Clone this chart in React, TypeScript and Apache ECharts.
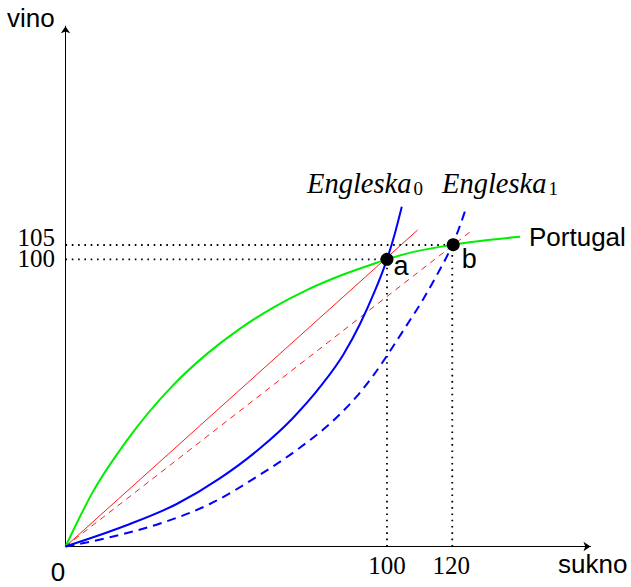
import React, { useEffect, useRef } from "react";
import * as echarts from "echarts";

// Data (x: sukno, y: vino)
const portugal: number[][] = [
  [0, 0], [8.6, 19.2], [19, 36.8], [33.5, 56.2], [43.9, 67.0],
  [54.3, 75.9], [64.6, 83.2], [75, 89.3], [85.4, 94.3], [95.7, 98.4], [100, 100],
  [106.1, 102.0], [120, 105], [128.9, 106.4], [141.4, 107.9],
];
const engleska0: number[][] = [
  [0, 0], [8.6, 3.2], [19, 7.4], [34.6, 14.8], [48.1, 23.8], [60.5, 34.2],
  [70.6, 44.6], [79.5, 56], [86.4, 66.8], [91.6, 77.5], [95.7, 87.6],
  [100, 100], [102.5, 109.2], [104.6, 118.3],
];
const engleska1: number[][] = [
  [0, 0], [13.8, 3.2], [29.4, 8.0], [44.9, 14.8], [60.5, 25.0], [72.9, 34.4],
  [84.4, 45.0], [90.6, 52.3], [95.7, 59.5], [100.9, 68.0], [106.1, 77.0], [111.3, 86.2],
  [115.5, 94.5], [120.3, 105], [122.2, 110.2], [124.3, 116.9],
];
const priceLine0: number[][] = [[0, 0], [109.5, 110.2]];
const priceLine1: number[][] = [[0, 0], [126.8, 110.4]];
const guides: number[][][] = [
  [[0, 105], [120.3, 105]],
  [[0, 100], [100, 100]],
  [[100, 0], [100, 100]],
  [[120.3, 0], [120.3, 105]],
];
const points: { name: string; value: number[] }[] = [
  { name: "a", value: [100, 100] },
  { name: "b", value: [120.6, 105.1] },
];
const xTicks: number[] = [100, 120];
const yTicks: number[] = [100, 105];

const SANS = "Liberation Sans";
const SERIF = "Liberation Serif";

// smooth curve through the points (cubic Hermite in pixel space, non-uniform tangents)
function splinePath(p: number[][]): string {
  const n = p.length;
  const h: number[] = [];
  const s: number[] = [];
  for (let i = 0; i < n - 1; i++) {
    h.push(p[i + 1][0] - p[i][0]);
    s.push((p[i + 1][1] - p[i][1]) / h[i]);
  }
  const m: number[] = new Array(n).fill(0);
  for (let i = 1; i < n - 1; i++) {
    m[i] = (h[i - 1] * s[i] + h[i] * s[i - 1]) / (h[i - 1] + h[i]);
  }
  m[0] = (3 * s[0] - m[1]) / 2;
  m[n - 1] = (3 * s[n - 2] - m[n - 2]) / 2;
  let d = `M${p[0][0]},${p[0][1]}`;
  for (let i = 0; i < n - 1; i++) {
    const c1x = p[i][0] + h[i] / 3;
    const c1y = p[i][1] + (m[i] * h[i]) / 3;
    const c2x = p[i + 1][0] - h[i] / 3;
    const c2y = p[i + 1][1] - (m[i + 1] * h[i]) / 3;
    d += ` C${c1x},${c1y} ${c2x},${c2y} ${p[i + 1][0]},${p[i + 1][1]}`;
  }
  return d;
}

export default function App() {
  const ref = useRef<HTMLDivElement>(null);
  useEffect(() => {
    if (!ref.current) return;
    const chart = echarts.init(ref.current, null, { renderer: "svg" });
    const guideSeries = guides.map((g) => ({
      type: "line",
      data: g,
      symbol: "none",
      silent: true,
      lineStyle: { color: "#000", width: 1.8, type: [1.6, 4.7] },
      z: 1,
    }));
    const curve = (data: number[][], color: string, dash: number[] | null) => ({
      type: "custom",
      data,
      encode: { x: 0, y: 1 },
      silent: true,
      z: 3,
      renderItem: (params: any, api: any) => {
        if (params.dataIndexInside !== 0) return null;
        const px = data.map((d) => api.coord(d));
        return {
          type: "path",
          shape: { pathData: splinePath(px) },
          style: {
            fill: "none",
            stroke: color,
            lineWidth: 2,
            lineDash: dash || undefined,
          },
        };
      },
    });
    chart.setOption({
      animation: false,
      grid: { left: 65.5, right: 40.5, top: 26.2, bottom: 40.5, outerBoundsMode: "none" },
      xAxis: {
        type: "value",
        min: 0,
        max: 163.3,
        splitLine: { show: false },
        axisTick: { show: false },
        axisLine: {
          show: true,
          symbol: ["none", "arrow"],
          symbolSize: [7, 7],
          lineStyle: { color: "#000", width: 1 },
        },
        axisLabel: {
          customValues: xTicks,
          margin: 6,
          fontFamily: SERIF,
          fontSize: 25,
          color: "#000",
        },
      },
      yAxis: {
        type: "value",
        min: 0,
        max: 181.2,
        splitLine: { show: false },
        axisTick: { show: false },
        axisLabel: { show: false },
        axisLine: {
          show: true,
          symbol: ["none", "arrow"],
          symbolSize: [7, 7],
          lineStyle: { color: "#000", width: 1 },
        },
      },
      series: [
        ...guideSeries,
        curve(portugal, "#00ee00", null),
        curve(engleska0, "#0000ff", null),
        curve(engleska1, "#0000ff", [9, 6]),
        {
          type: "line", data: priceLine0, symbol: "none",
          lineStyle: { color: "#ff0000", width: 0.9 }, z: 2,
        },
        {
          type: "line", data: priceLine1, symbol: "none",
          lineStyle: { color: "#ff0000", width: 0.9, type: [6, 5] }, z: 2,
        },
        {
          // y tick labels, placed through the y scale
          type: "scatter",
          silent: true,
          symbol: "circle",
          symbolSize: 0,
          itemStyle: { color: "#000", opacity: 1 },
          data: yTicks.map((v) => ({
            value: [0, v],
            label: {
              show: true,
              position: "left",
              distance: 10.5,
              offset: v === 105 ? [0, -7.5] : [0, -1],
              formatter: String(v),
              fontFamily: SERIF,
              fontSize: 25,
              lineHeight: 19,
              color: "#000",
              textBorderWidth: 0,
            },
          })),
          z: 4,
        },
        {
          type: "scatter",
          silent: true,
          data: points.map((p, i) => ({
            name: p.name,
            value: p.value,
            label: {
              show: true,
              position: "right",
              distance: i === 0 ? 0 : 2,
              offset: i === 0 ? [0, 7] : [0, 14],
              formatter: p.name,
              fontFamily: SANS,
              fontSize: 27,
              color: "#000",
              textBorderWidth: 0,
            },
          })),
          symbol: "circle",
          symbolSize: 13,
          itemStyle: { color: "#000", opacity: 1 },
          z: 5,
        },
      ],
      graphic: [
        { type: "text", x: 7, y: 18, style: { text: "vino", fontFamily: SANS, fontSize: 26, fill: "#000", align: "left", verticalAlign: "middle" } },
        { type: "text", x: 558, y: 564, style: { text: "sukno", fontFamily: SANS, fontSize: 26, fill: "#000", align: "left", verticalAlign: "middle" } },
        { type: "text", x: 529, y: 237, style: { text: "Portugal", fontFamily: SANS, fontSize: 26, fill: "#000", align: "left", verticalAlign: "middle" } },
        { type: "text", x: 58, y: 572, style: { text: "0", fontFamily: SANS, fontSize: 26, fill: "#000", align: "center", verticalAlign: "middle" } },
        {
          type: "text", x: 307, y: 183,
          style: {
            text: "{i|Engleska}{s|0}", align: "left", verticalAlign: "middle",
            rich: {
              i: { fontFamily: SERIF, fontStyle: "italic", fontSize: 28.5, fill: "#000" },
              s: { fontFamily: SERIF, fontSize: 19, fill: "#000", verticalAlign: "bottom", padding: [0, 0, 0, 2] },
            },
          },
        },
        {
          type: "text", x: 442, y: 183,
          style: {
            text: "{i|Engleska}{s|1}", align: "left", verticalAlign: "middle",
            rich: {
              i: { fontFamily: SERIF, fontStyle: "italic", fontSize: 28.5, fill: "#000" },
              s: { fontFamily: SERIF, fontSize: 19, fill: "#000", verticalAlign: "bottom", padding: [0, 0, 0, 2] },
            },
          },
        },
      ],
    });
    return () => chart.dispose();
  }, []);
  return (
    <div
      ref={ref}
      style={{ position: "fixed", left: 0, top: 0, width: 631, height: 587, background: "#fff" }}
    />
  );
}
